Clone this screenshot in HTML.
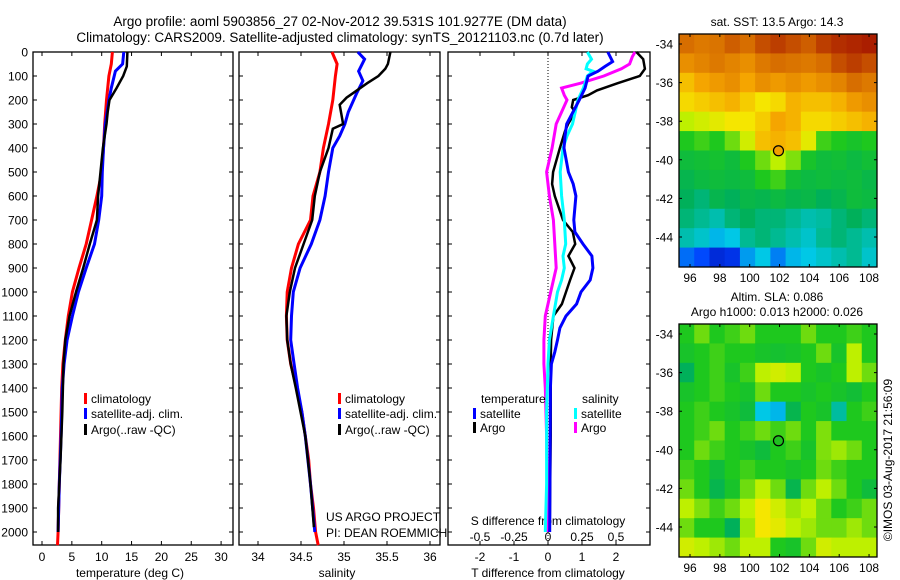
<!DOCTYPE html>
<html><head><meta charset="utf-8"><style>
body{margin:0;background:#fff;}
svg{display:block;font-family:"Liberation Sans",sans-serif;}
</style></head><body>
<svg id="s" width="900" height="580" viewBox="0 0 900 580" xmlns="http://www.w3.org/2000/svg">
<text x="340" y="26" font-size="13.5" text-anchor="middle">Argo profile: aoml 5903856_27 02-Nov-2012 39.531S 101.9277E (DM data)</text>
<text x="340" y="42" font-size="13.5" text-anchor="middle">Climatology: CARS2009. Satellite-adjusted climatology: synTS_20121103.nc (0.7d later)</text>
<g id="g"></g>
</svg>
<script>
const depthTicks=[0,100,200,300,400,500,600,700,800,900,1000,1100,1200,1300,1400,1500,1600,1700,1800,1900,2000];
const tTicks=[0,5,10,15,20,25,30];
const sTicks=[34,34.5,35,35.5,36];
const dtTicks=[-2,-1,0,1,2];
const dsTicks=[-0.5,-0.25,0,0.25,0.5];
const dsTickLabels=["-0.5","-0.25","0","0.25","0.5"];
// temperature profiles
const tClimD=[0,50,100,200,300,400,500,600,700,800,900,1000,1100,1200,1300,1400,1500,1600,1800,2000,2055];
const tClim=[11.8,11.6,11.2,10.8,10.5,10.3,10.0,9.2,8.3,7.4,6.2,5.1,4.4,3.9,3.5,3.3,3.2,3.1,2.9,2.7,2.6];
const tSatD=[0,50,80,150,200,300,400,500,600,700,800,900,1000,1100,1200,1300,1400,1600,1800,2000];
const tSat=[13.7,13.5,12.3,11.6,11.2,10.6,10.3,10.1,10.0,9.5,8.8,7.4,6.1,5.1,4.2,3.7,3.4,3.2,2.9,2.7];
const tArgoD=[0,60,100,150,200,250,300,400,500,600,700,800,900,1000,1100,1200,1300,1400,1500,1700,1900,2000];
const tArgo=[14.3,14.2,13.6,12.5,11.3,11.0,10.8,10.2,9.8,9.4,9.2,8.0,6.9,5.7,4.6,3.9,3.6,3.5,3.4,3.1,2.7,2.7];
// salinity profiles
const sClimD=[0,50,100,200,300,400,500,600,700,800,900,1000,1100,1200,1300,1400,1500,1600,1700,1800,1900,2000,2055];
const sClim=[34.86,34.92,34.9,34.87,34.82,34.76,34.72,34.64,34.61,34.47,34.39,34.34,34.33,34.34,34.38,34.45,34.51,34.55,34.59,34.61,34.645,34.67,34.70];
const sSatD=[0,30,80,120,170,250,300,350,400,500,600,700,800,900,1000,1100,1200,1300,1400,1500,1600,1800,2000];
const sSat=[35.16,35.24,35.17,35.22,35.15,35.05,35.01,34.95,34.87,34.82,34.78,34.72,34.62,34.49,34.41,34.39,34.38,34.42,34.46,34.51,34.55,34.61,34.66];
const sArgoD=[0,50,70,100,130,170,190,220,260,300,320,400,500,600,700,800,900,1000,1100,1200,1300,1400,1600,1800,1980];
const sArgo=[35.54,35.51,35.48,35.40,35.27,35.11,35.03,34.95,34.97,34.99,34.87,34.82,34.72,34.66,34.63,34.53,34.43,34.37,34.33,34.34,34.38,34.44,34.55,34.61,34.65];
// difference profiles
const dtSatD=[0,40,60,80,100,150,200,300,350,400,500,550,600,700,750,800,850,900,950,1000,1050,1100,1150,1200,1250,1300,1400,2000];
const dtSat=[1.76,1.9,1.68,1.47,1.18,1.09,0.92,0.55,0.5,0.47,0.6,0.74,0.82,0.76,0.79,1.03,1.29,1.32,1.24,0.97,0.84,0.53,0.35,0.28,0.2,0.1,0.07,0.05];
const dtArgoD=[0,30,70,100,130,160,180,200,230,250,300,330,400,500,550,600,700,750,800,850,900,950,1000,1050,1100,1200,1300,1600,2000];
const dtArgo=[2.6,2.8,2.85,2.7,2.05,1.44,1.18,0.74,0.7,0.8,0.59,0.5,0.35,0.15,0.12,0.2,0.44,0.73,0.8,0.6,0.78,0.65,0.53,0.41,0.16,0.09,0.08,0.08,0.05];
const dsSatD=[0,30,50,70,80,100,150,200,250,300,350,400,500,600,700,800,850,900,950,1000,1100,1200,1300,1500,1800,2000];
const dsSat=[0.29,0.32,0.29,0.28,0.33,0.29,0.26,0.22,0.2,0.18,0.14,0.11,0.09,0.1,0.12,0.13,0.11,0.12,0.1,0.07,0.04,0.01,0,-0.01,-0.01,-0.02];
const dsArgoD=[0,20,50,70,100,130,150,180,200,250,300,400,500,600,700,800,900,1000,1050,1100,1200,1300,1400,1600,2000];
const dsArgo=[0.64,0.62,0.6,0.54,0.41,0.24,0.1,0.12,0.14,0.1,0.06,0.03,-0.01,0.01,0.04,0.05,0.06,0.02,0,-0.02,-0.03,-0.03,-0.02,-0.01,0];
// maps
const lonTicks=[96,98,100,102,104,106,108];
const latTicks=[-34,-36,-38,-40,-42,-44];
const sstGrid=[
[0.86,0.84,0.85,0.88,0.86,0.9,0.92,0.9,0.88,0.92,0.94,0.95,0.96],
[0.8,0.82,0.84,0.82,0.8,0.84,0.86,0.85,0.84,0.86,0.9,0.92,0.9],
[0.72,0.76,0.78,0.8,0.76,0.8,0.78,0.8,0.78,0.8,0.82,0.86,0.84],
[0.68,0.7,0.72,0.74,0.7,0.66,0.68,0.74,0.72,0.72,0.74,0.78,0.8],
[0.6,0.62,0.64,0.66,0.66,0.7,0.76,0.74,0.68,0.68,0.7,0.72,0.74],
[0.5,0.52,0.5,0.55,0.62,0.72,0.74,0.72,0.64,0.52,0.5,0.48,0.5],
[0.45,0.46,0.47,0.45,0.5,0.55,0.6,0.56,0.48,0.45,0.46,0.44,0.46],
[0.42,0.44,0.45,0.44,0.45,0.5,0.52,0.46,0.44,0.45,0.44,0.45,0.43],
[0.4,0.38,0.42,0.4,0.43,0.42,0.44,0.42,0.43,0.4,0.42,0.45,0.44],
[0.38,0.36,0.34,0.38,0.4,0.38,0.38,0.36,0.34,0.35,0.38,0.4,0.38],
[0.34,0.32,0.28,0.3,0.36,0.38,0.36,0.34,0.32,0.36,0.38,0.36,0.34],
[0.2,0.16,0.1,0.12,0.25,0.3,0.22,0.28,0.3,0.32,0.34,0.36,0.32]];
const slaGrid=[
[0.5,0.55,0.5,0.52,0.55,0.5,0.5,0.5,0.55,0.5,0.5,0.52,0.5],
[0.48,0.5,0.52,0.5,0.5,0.48,0.47,0.48,0.5,0.55,0.48,0.6,0.5],
[0.4,0.5,0.52,0.48,0.52,0.6,0.62,0.6,0.5,0.48,0.5,0.6,0.55],
[0.48,0.5,0.52,0.5,0.48,0.55,0.5,0.5,0.48,0.5,0.48,0.46,0.5],
[0.5,0.52,0.5,0.48,0.45,0.3,0.28,0.42,0.5,0.48,0.35,0.5,0.52],
[0.5,0.52,0.55,0.5,0.52,0.55,0.52,0.55,0.5,0.56,0.5,0.5,0.5],
[0.5,0.55,0.52,0.5,0.48,0.45,0.5,0.52,0.48,0.56,0.58,0.55,0.5],
[0.52,0.5,0.45,0.5,0.52,0.5,0.5,0.48,0.5,0.55,0.52,0.5,0.5],
[0.55,0.5,0.42,0.48,0.55,0.6,0.55,0.42,0.55,0.6,0.55,0.5,0.45],
[0.6,0.56,0.52,0.55,0.6,0.66,0.62,0.58,0.6,0.55,0.5,0.52,0.55],
[0.55,0.5,0.5,0.4,0.58,0.66,0.64,0.6,0.58,0.55,0.55,0.58,0.55],
[0.62,0.6,0.58,0.55,0.6,0.6,0.5,0.48,0.55,0.62,0.6,0.6,0.6]];
const floatLon=101.93, floatLat=-39.53;

const NS='http://www.w3.org/2000/svg';
const G=document.getElementById('g');
function mk(t,a,p){const e=document.createElementNS(NS,t);for(const k in a)e.setAttribute(k,a[k]);(p||G).appendChild(e);return e;}
const yD=d=>52+d*0.24;
const xT=v=>42+v*5.97, xS=v=>258+(v-34)*86, xDT=v=>548+v*34, xDS=v=>548+v*136;
const panels=[[33,233],[239,440],[448,650]];
panels.forEach((p,i)=>{
  const r=mk('rect',{x:p[0],y:52,width:p[1]-p[0],height:493,fill:'none',stroke:'#000','stroke-width':1.3});
  
  
  depthTicks.forEach(d=>{
    const t=mk('path',{d:`M${p[0]} ${yD(d)}h4M${p[1]} ${yD(d)}h-4`,stroke:'#000'});
    
    
  });
});
depthTicks.forEach(d=>{
  const t=mk('text',{x:28,y:yD(d)+4.5,'font-size':12,'text-anchor':'end'});t.textContent=d;
  
  
});
function xticks(ticks,fx,labels,y,top){
  ticks.forEach((v,i)=>{
    const x=fx(v);
    const t=mk('path',{d:`M${x} 545v-4`+(top?`M${x} 52v4`:''),stroke:'#000'});
    
    
    const l=mk('text',{x:x,y:y,'font-size':12,'text-anchor':'middle'});l.textContent=labels[i];
    
    
  });
}
xticks(tTicks,xT,tTicks,561,true);
xticks(sTicks,xS,sTicks,561,true);
xticks(dtTicks,xDT,dtTicks,561,true);
dsTicks.forEach((v,i)=>{
  const l=mk('text',{x:xDS(v),y:541,'font-size':12,'text-anchor':'middle'});l.textContent=dsTickLabels[i];
  
  
});
const dl=mk('line',{x1:xDT(0),x2:xDT(0),y1:52,y2:545,stroke:'#000','stroke-dasharray':'1,2'});


function txt(x,y,s,name,anchor,size){const t=mk('text',{x:x,y:y,'font-size':size||12,'text-anchor':anchor||'start'});t.textContent=s;
  
  return t;}
txt(130,577,'temperature (deg C)','x-axis-title-temperature','middle');
txt(337,577,'salinity','x-axis-title-salinity','middle');
txt(548,577,'T difference from climatology','x-axis-title-t-diff','middle');
txt(548,525,'S difference from climatology','s-diff-axis-title','middle');
txt(326,521,'US ARGO PROJECT','credit-project');
txt(326,537,'PI: DEAN ROEMMICH','credit-pi');
function line(D,V,fx,col,w,name){
  const pts=D.map((d,i)=>fx(V[i]).toFixed(1)+','+yD(d).toFixed(1)).join(' ');
  const l=mk('polyline',{points:pts,fill:'none',stroke:col,'stroke-width':w,'stroke-linejoin':'miter'});
  
  
}
line(tClimD,tClim,xT,'#f00',3,'temp-climatology-line');
line(tSatD,tSat,xT,'#00f',3,'temp-satellite-line');
line(tArgoD,tArgo,xT,'#000',2.5,'temp-argo-line');
line(sClimD,sClim,xS,'#f00',3,'sal-climatology-line');
line(sSatD,sSat,xS,'#00f',3,'sal-satellite-line');
line(sArgoD,sArgo,xS,'#000',2.5,'sal-argo-line');
line(dsArgoD,dsArgo,xDS,'#f0f',3,'s-diff-argo-line');
line(dtArgoD,dtArgo,xDT,'#000',2.5,'t-diff-argo-line');
line(dsSatD,dsSat,xDS,'#0ff',3,'s-diff-satellite-line');
line(dtSatD,dtSat,xDT,'#00f',3,'t-diff-satellite-line');
function leg(x,y,col,s,name){
  const m=mk('rect',{x:x,y:y-10,width:3,height:11,fill:col});
  
  
  txt(x+7,y,s,name);
}
[[84,'climatology-legend'],[338,'salinity-legend']].forEach(([x0,n])=>{
  leg(x0,403,'#f00','climatology',n+'-climatology');
  leg(x0,418,'#00f','satellite-adj. clim.',n+'-satellite');
  leg(x0,434,'#000','Argo(..raw -QC)',n+'-argo');
});
txt(481,403,'temperature','diff-legend-temperature-header');
txt(582,403,'salinity','diff-legend-salinity-header');
leg(473,418,'#00f','satellite','diff-legend-t-satellite');
leg(473,432,'#000','Argo','diff-legend-t-argo');
leg(574,418,'#0ff','satellite','diff-legend-s-satellite');
leg(574,432,'#f0f','Argo','diff-legend-s-argo');
// colormap
const cm=[[0,[0,0,140]],[0.15,[0,64,255]],[0.3,[0,200,230]],[0.4,[0,176,90]],[0.5,[30,200,30]],[0.6,[190,240,0]],[0.66,[245,230,0]],[0.76,[245,165,0]],[0.86,[215,110,0]],[0.96,[170,30,0]],[1,[140,0,0]]];
function col(v){for(let i=1;i<cm.length;i++){if(v<=cm[i][0]){const a=cm[i-1],b=cm[i],t=(v-a[0])/(b[0]-a[0]);return 'rgb('+a[1].map((c,k)=>Math.round(c+(b[1][k]-c)*t)).join(',')+')';}}return 'rgb(140,0,0)';}
function map(grid,top,name,circFill){
  const L=679,R=877,B=top+233;
  const lonX=v=>690+(v-96)*14.92, latY=v=>top+10+(-34-v)*19.3;
  const nr=grid.length,nc=grid[0].length,cw=(R-L)/nc,ch=(B-top)/nr;
  grid.forEach((row,r)=>row.forEach((v,c)=>{
    const e=mk('rect',{x:(L+c*cw).toFixed(2),y:(top+r*ch).toFixed(2),width:(cw+0.5).toFixed(2),height:(ch+0.5).toFixed(2),fill:col(v)});
    
    
  }));
  const f=mk('rect',{x:L,y:top,width:R-L,height:B-top,fill:'none',stroke:'#000','stroke-width':1.3});
  
  
  lonTicks.forEach(v=>{const x=lonX(v);mk('path',{d:`M${x} ${B}v-3M${x} ${top}v3`,stroke:'#000'});
    txt(x,B+15,v,name+'-lon-label','middle');});
  latTicks.forEach(v=>{const y=latY(v);mk('path',{d:`M${L} ${y}h3M${R} ${y}h-3`,stroke:'#000'});
    txt(673,y+4.5,v,name+'-lat-label','end');});
  const c=mk('circle',{cx:lonX(floatLon),cy:latY(floatLat),r:5,fill:circFill,stroke:'#000','stroke-width':1.2});
  
  
}
map(sstGrid,34,'sst-map','#f0a000');
map(slaGrid,324,'sla-map','#20c020');
txt(777,26,'sat. SST: 13.5 Argo: 14.3','sst-map-title','middle');
txt(777,301,'Altim. SLA: 0.086','sla-map-title','middle');
txt(777,316,'Argo h1000: 0.013 h2000: 0.026','sla-map-subtitle','middle');
const im=txt(0,0,'©IMOS 03-Aug-2017 21:56:09','imos-timestamp','middle');
im.setAttribute('transform','translate(892,460) rotate(-90)');
</script>
</body></html>
